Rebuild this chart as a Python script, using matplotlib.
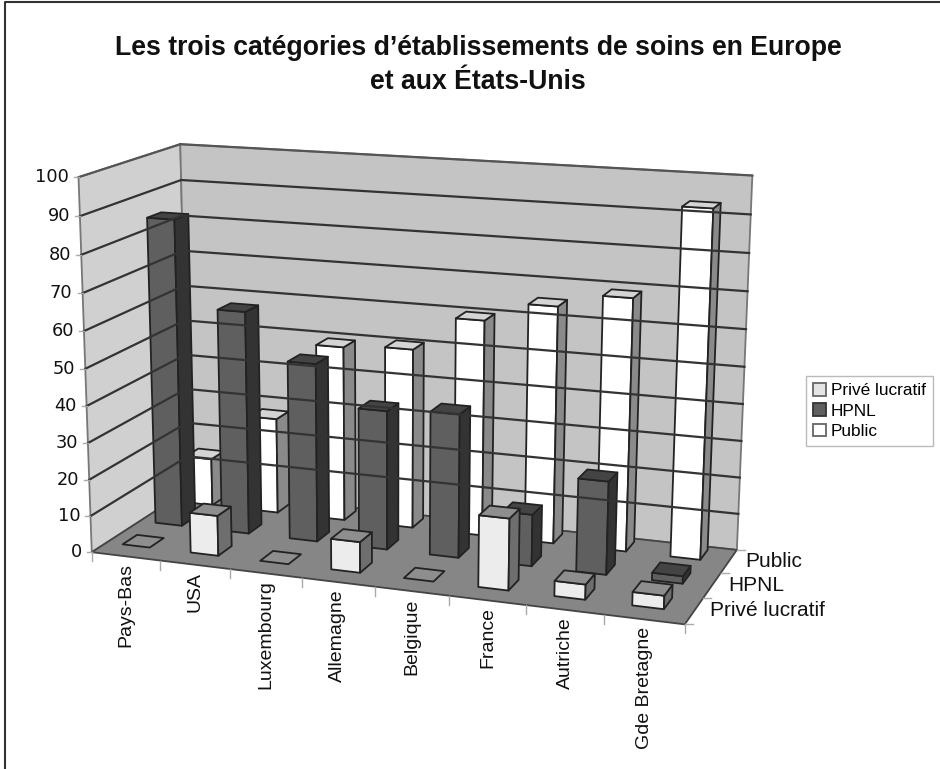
import numpy as np
import matplotlib
matplotlib.use('Agg')
import matplotlib.pyplot as plt
from matplotlib.patches import Polygon, Patch

plt.rcParams['font.family'] = ['Liberation Sans', 'DejaVu Sans']

# Donnees
pays = ['Pays-Bas', 'USA', 'Luxembourg', 'Allemagne', 'Belgique', 'France', 'Autriche', 'Gde Bretagne']
series = ['Privé lucratif', 'HPNL', 'Public']
prive = [0, 11, 0, 8.3, 0, 19, 4, 3.5]
hpnl = [85, 61.5, 49, 38, 39, 14, 25, 2]
public = [13.5, 27, 49, 50, 59.5, 64.8, 68.5, 93]
graduations = list(range(0, 101, 10))

W, H = 940, 769
fig = plt.figure(figsize=(W/100, H/100), dpi=100)
ax = fig.add_axes([0, 0, 1, 1])
ax.set_xlim(0, W)
ax.set_ylim(H, 0)
ax.axis('off')

# Calibrage de la projection (x categories, y profondeur, z valeur) -> pixels
coins = [(0, 0, 0), (1, 0, 0), (1, 1, 0), (0, 1, 0), (0, 0, 1), (0, 1, 1), (1, 1, 1)]
pix = [(93, 549), (685, 627), (737, 547), (187, 493), (77, 178), (182, 143), (752, 176)]
A, b = [], []
for (x, y, z), (u, v) in zip(coins, pix):
    A.append([x, y, z, 1, 0, 0, 0, 0, -u*x, -u*y, -u*z])
    A.append([0, 0, 0, 0, x, y, z, 1, -v*x, -v*y, -v*z])
    b += [u, v]
m = np.linalg.lstsq(np.array(A, float), np.array(b, float), rcond=None)[0]
P = np.append(m, 1).reshape(3, 4)


def proj(x, y, z):
    p = P @ np.array([x, y, z/100, 1.0])
    return p[0]/p[2], p[1]/p[2]


def face(pts, fc, ec='#222222', lw=1.3):
    ax.add_patch(Polygon([proj(*q) for q in pts], closed=True, fc=fc, ec=ec, lw=lw, joinstyle='round'))


# Murs et sol
face([(0, 0, 0), (0, 1, 0), (0, 1, 100), (0, 0, 100)], '#d0d0d0', ec='#777777')
face([(0, 1, 0), (1, 1, 0), (1, 1, 100), (0, 1, 100)], '#c4c4c4', ec='#777777')
face([(0, 0, 0), (1, 0, 0), (1, 1, 0), (0, 1, 0)], '#868686', ec='#444444')
for a, c in [((0, 0, 100), (0, 1, 100)), ((0, 1, 100), (1, 1, 100))]:
    p0, p1 = proj(*a), proj(*c)
    ax.plot([p0[0], p1[0]], [p0[1], p1[1]], color='#555555', lw=1.6)

for g in graduations[1:-1]:
    a, c, d = proj(0, 0, g), proj(0, 1, g), proj(1, 1, g)
    ax.plot([a[0], c[0], d[0]], [a[1], c[1], d[1]], color='#333333', lw=1.6)
for g in graduations:
    a = proj(0, 0, g)
    ax.plot([a[0]-5, a[0]], [a[1], a[1]], color='#aaaaaa', lw=1)
    ax.text(a[0]-10, a[1], str(g), ha='right', va='center', fontsize=12.8,
            family='DejaVu Sans', color='#111111')

# Graduations du sol
for i in range(9):
    a = proj(i/8, 0, 0)
    ax.plot([a[0], a[0]], [a[1], a[1]+9], color='#aaaaaa', lw=1)
for j in range(4):
    a = proj(1, j/3, 0)
    ax.plot([a[0], a[0]+8], [a[1], a[1]], color='#aaaaaa', lw=1)

# Barres, de l'arriere vers l'avant
styles = [('#ececec', '#6e6e6e', '#8e8e8e'), ('#5f5f5f', '#333333', '#444444'), ('#ffffff', '#8a8a8a', '#d4d4d4')]
valeurs = [prive, hpnl, public]
lx, ly = 0.40/8, 0.43/3
for j in [2, 1, 0]:
    fc, sc, tc = styles[j]
    for i in range(len(pays)):
        cx, cy = (i+.5)/8-0.008, (j+.5)/3+0.05
        x0, x1 = cx-lx/2, cx+lx/2
        y0, y1 = cy-ly/2, cy+ly/2
        v = valeurs[j][i]
        if v == 0:
            face([(x0, y0, 0), (x1, y0, 0), (x1, y1, 0), (x0, y1, 0)], tc)
            continue
        face([(x0, y0, 0), (x1, y0, 0), (x1, y0, v), (x0, y0, v)], fc)
        face([(x1, y0, 0), (x1, y1, 0), (x1, y1, v), (x1, y0, v)], sc)
        face([(x0, y0, v), (x1, y0, v), (x1, y1, v), (x0, y1, v)], tc)

# Etiquettes des axes
for i, nom in enumerate(pays):
    a = proj((i+.5)/8, 0, 0)
    ax.text(a[0], a[1]+7, nom, rotation=90, ha='center', va='top', fontsize=14, color='#111111')
for j, nom in enumerate(series):
    a = proj(1, (j+.5)/3, 0)
    ax.text(a[0]+16, a[1], nom, ha='left', va='center', fontsize=15, color='#111111')

ax.text(478, 48, "Les trois catégories d’établissements de soins en Europe", ha='center', va='center',
        fontsize=19.2, fontweight='bold', color='#111111')
ax.text(478, 82, "et aux États-Unis", ha='center', va='center',
        fontsize=19.2, fontweight='bold', color='#111111')

# Cadre
ax.plot([5, 5, W], [H, 2, 2], color='#333333', lw=1.5, clip_on=False)

# Legende
poignees = [Patch(fc='#e4e4e4', ec='#666666', lw=1.3), Patch(fc='#5f5f5f', ec='#333333', lw=1.3),
            Patch(fc='#ffffff', ec='#666666', lw=1.3)]
leg = ax.legend(poignees, series, loc='upper left', bbox_to_anchor=(806/W, 1-376/H), fontsize=12.4, fancybox=False,
                edgecolor='#bbbbbb', framealpha=1, handlelength=0.75, handleheight=0.75, handletextpad=0.3,
                labelspacing=0.3, borderpad=0.4, borderaxespad=0)

fig.savefig('out.png', dpi=100)
